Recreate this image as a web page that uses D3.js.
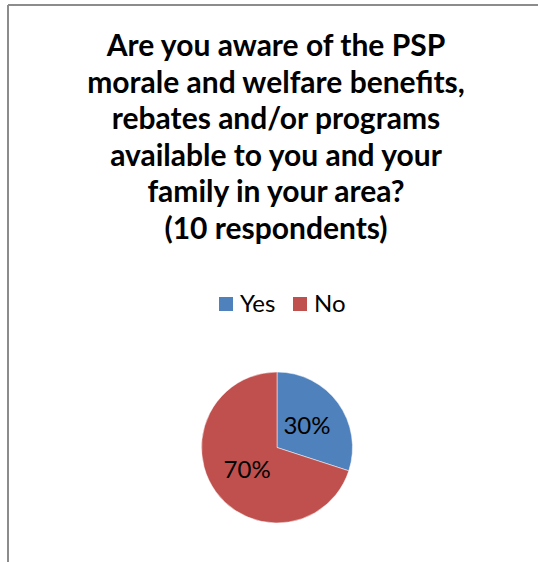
<!DOCTYPE html>
<html>
<head>
<meta charset="utf-8">
<title>PSP awareness pie</title>
<script src="https://d3js.org/d3.v7.min.js"></script>
<style>
  body { margin: 0; background: #fff; }
  text { font-family: Lato, "Open Sans", sans-serif; fill: #000; }
</style>
</head>
<body>
<svg id="chart" width="538" height="562"></svg>
<script>
// data
const titleLines = [
  "Are you aware of the PSP",
  "morale and welfare benefits,",
  "rebates and/or programs",
  "available to you and your",
  "family in your area?",
  "(10 respondents)"
];
const categories = ["Yes", "No"];
const shares = [30, 70];
const colors = ["#4f81bd", "#c0504d"];

const svg = d3.select("#chart");

// chart frame (only top + left edges visible in crop)
svg.append("line").attr("x1", 8).attr("y1", 5).attr("x2", 538).attr("y2", 5)
  .attr("stroke", "#8c8c8c").attr("stroke-width", 2);
svg.append("line").attr("x1", 8).attr("y1", 5).attr("x2", 8).attr("y2", 562)
  .attr("stroke", "#8c8c8c").attr("stroke-width", 2);

// title
svg.append("g")
  .selectAll("text")
  .data(titleLines)
  .join("text")
    .attr("x", 276)
    .attr("y", (d, i) => 56 + i * 36.6)
    .attr("text-anchor", "middle")
    .style("font-weight", "bold")
    .style("font-size", "30px")
    .text(d => d);

// legend
const legend = svg.append("g").attr("transform", "translate(219,297)");
const legendX = d3.scaleOrdinal().domain(categories).range([0, 74]);
const item = legend.selectAll("g")
  .data(categories)
  .join("g")
    .attr("transform", d => `translate(${legendX(d)},0)`);
item.append("rect")
  .attr("width", 14).attr("height", 14)
  .attr("fill", (d, i) => colors[i]);
item.append("text")
  .attr("x", 21).attr("y", 15)
  .style("font-size", "24px")
  .text(d => d);

// pie
const cx = 277, cy = 447.5, r = 75.5;
const pie = d3.pie().sort(null).value(d => d);
const arc = d3.arc().innerRadius(0).outerRadius(r);
const labelArc = d3.arc().innerRadius(r * 0.49).outerRadius(r * 0.49);
const g = svg.append("g").attr("transform", `translate(${cx},${cy})`);
const arcs = pie(shares);
g.selectAll("path")
  .data(arcs)
  .join("path")
    .attr("d", arc)
    .attr("fill", (d, i) => colors[i])
    .attr("stroke", "#fff")
    .attr("stroke-width", 0.5);
g.selectAll("text")
  .data(arcs)
  .join("text")
    .attr("transform", d => `translate(${labelArc.centroid(d)})`)
    .attr("text-anchor", "middle")
    .attr("dy", "0.36em")
    .style("font-size", "24px")
    .text(d => d.data + "%");
</script>
</body>
</html>
